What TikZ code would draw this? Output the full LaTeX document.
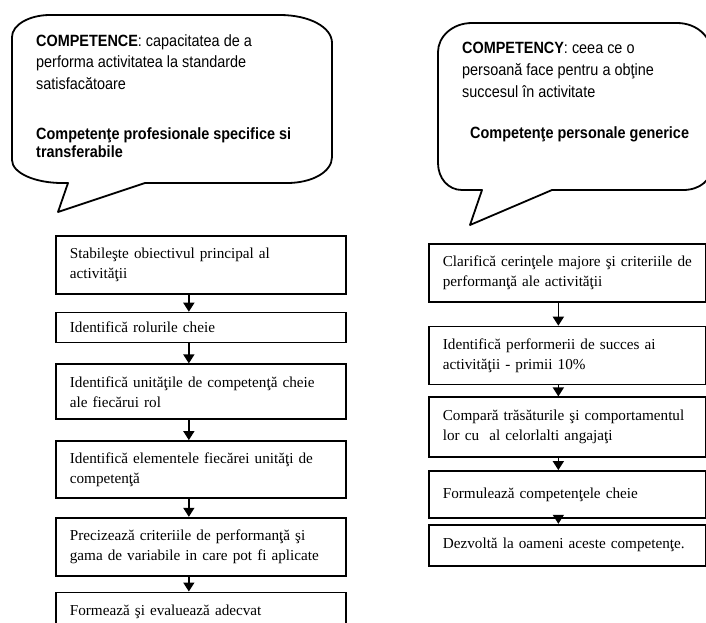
\documentclass[tikz,border=0pt]{standalone}
\usepackage{fontspec}
\setmainfont{Liberation Serif}
\newfontfamily\calloutfont[FakeStretch=0.885]{Liberation Sans}
\usetikzlibrary{arrows.meta, positioning}

\begin{document}
\begin{tikzpicture}[x=1pt, y=-1pt,
  bubble/.style={draw, line width=1.8pt, line join=round},
  bubbletext/.style={inner sep=0pt, align=left,
    font=\calloutfont\fontsize{16.3}{21.5}\selectfont},
  lbox/.style={draw, line width=1.7pt, align=left, text width=262pt,
    inner xsep=14pt, font=\fontsize{15.2}{20}\selectfont},
  rbox/.style={draw, line width=1.7pt, align=left, text width=249pt,
    inner xsep=14pt, font=\fontsize{15.2}{20}\selectfont},
  flowarr/.style={-{Triangle[length=9pt, width=11pt]}, line width=1.5pt}]

  \clip (0,0) rectangle (706,622);

  % Callouts
  \draw[bubble] (68,183) -- (58,212) -- (145,183) -- (287,183)
    .. controls (312,183) and (332,172) .. (332,157) -- (332,43)
    .. controls (332,27) and (309,15) .. (280,15) -- (50,15)
    .. controls (29,15) and (12,25) .. (12,37) -- (12,160)
    .. controls (12,173) and (35,183) .. (62,183) -- cycle;
  \draw[bubble] (482,190) -- (470,225) -- (552,190) -- (683,190)
    .. controls (700,190) and (712,180) .. (712,165) -- (712,55)
    .. controls (712,37) and (697,23) .. (677,23) -- (472,23)
    .. controls (452,23) and (438,37) .. (438,52) -- (438,163)
    .. controls (438,178) and (448,190) .. (462,190) -- cycle;

  \node[bubbletext, anchor=base west] (defl) at (36,89)
    {\textbf{COMPETENCE}: capacitatea de a\\performa activitatea la standarde\\satisfacătoare};
  \node[bubbletext, anchor=base west, font=\calloutfont\fontsize{16.3}{18}\selectfont] (kindl) at (36,157)
    {\textbf{Competenţe profesionale specifice si}\\\textbf{transferabile}};
  \node[bubbletext, anchor=base west, font=\calloutfont\fontsize{16.3}{22}\selectfont] (defr) at (462,97)
    {\textbf{COMPETENCY}: ceea ce o\\persoană face pentru a obţine\\succesul în activitate};
  \node[bubbletext, anchor=base west] (kindr) at (470,138)
    {\textbf{Competenţe personale generice}};

  % Left flow
  \node[lbox, minimum height=58pt, anchor=north west] (l1) at (55,235)
    {Stabileşte obiectivul principal al\\activităţii};
  \node[lbox, minimum height=30pt, below=17pt of l1] (l2) {Identifică rolurile cheie};
  \node[lbox, minimum height=55pt, below=20pt of l2] (l3)
    {Identifică unităţile de competenţă cheie\\ale fiecărui rol};
  \node[lbox, minimum height=57pt, below=20pt of l3] (l4)
    {Identifică elementele fiecărei unităţi de\\competenţă};
  \node[lbox, minimum height=58pt, below=18pt of l4] (l5)
    {Precizează criteriile de performanţă şi\\gama de variabile in care pot fi aplicate};
  \node[lbox, minimum height=38pt, below=15pt of l5] (l6) {Formează şi evaluează adecvat};

  % Right flow
  \node[rbox, minimum height=58pt, anchor=north west] (r1) at (428,243)
    {Clarifică cerinţele majore şi criteriile de\\performanţă ale activităţii};
  \node[rbox, minimum height=58pt, below=23pt of r1] (r2)
    {Identifică performerii de succes ai\\activităţii - primii 10\%};
  \node[rbox, minimum height=60pt, below=11pt of r2] (r3)
    {Compară trăsăturile şi comportamentul\\lor cu~ al celorlalti angajaţi};
  \node[rbox, minimum height=47pt, below=12pt of r3] (r4) {Formulează competenţele cheie};
  \node[rbox, minimum height=41pt, below=5pt of r4] (r5) {Dezvoltă la oameni aceste competenţe.};

  \foreach \a/\b in {l1/l2, l2/l3, l3/l4, l4/l5, l5/l6}
    \draw[flowarr] ([xshift=-12pt]\a.south) -- ([xshift=-12pt]\b.north);
  \foreach \a/\b in {r1/r2, r2/r3, r3/r4, r4/r5}
    \draw[flowarr] ([xshift=-9pt]\a.south) -- ([xshift=-9pt]\b.north);
\end{tikzpicture}
\end{document}
